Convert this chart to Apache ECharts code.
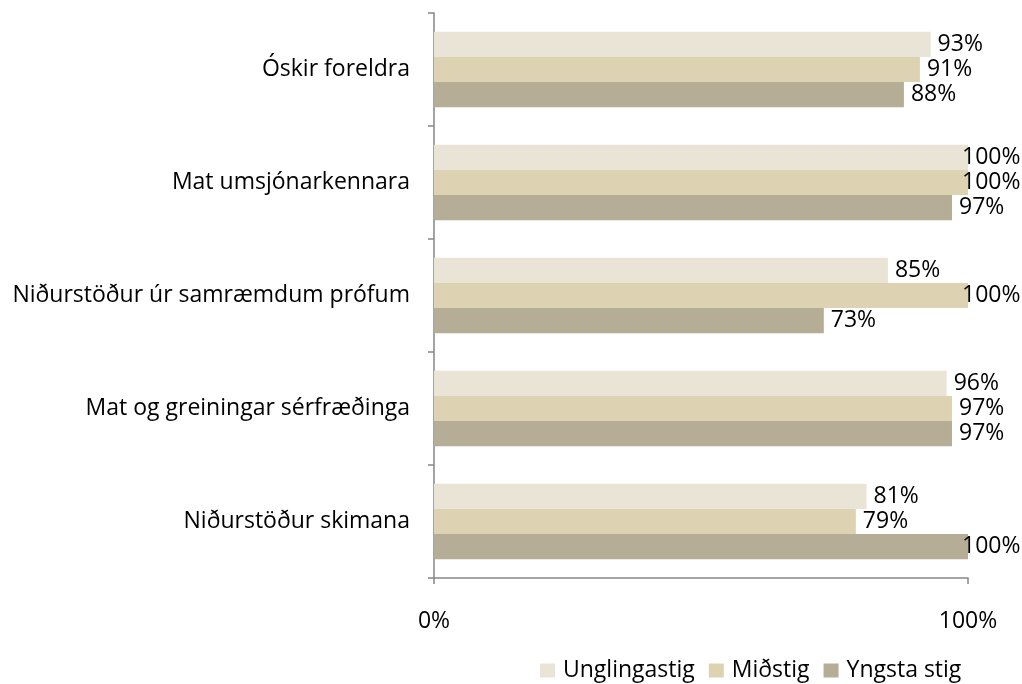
<!DOCTYPE html>
<html><head><meta charset="utf-8">
<script src="https://cdn.jsdelivr.net/npm/echarts@6/dist/echarts.min.js"></script>
<style>html,body{margin:0;padding:0;background:#fff}#c{width:1022px;height:684px}</style>
</head><body><div id="c"></div>
<script>
const categories = ['Óskir foreldra','Mat umsjónarkennara','Niðurstöður úr samræmdum prófum','Mat og greiningar sérfræðinga','Niðurstöður skimana'];
const seriesNames = ['Unglingastig','Miðstig','Yngsta stig'];
const unglingastig = [93,100,85,96,81];
const midstig = [91,100,100,97,79];
const yngstaStig = [88,97,73,97,100];
const xTicks = [0,100];
const colors = ['#E9E4D5','#DDD3B3','#B5AD95'];
const FONT = 'Open Sans';
const FS = 23;
const values = [unglingastig, midstig, yngstaStig];
const chart = echarts.init(document.getElementById('c'));
chart.setOption({
  animation:false,
  textStyle:{fontFamily:FONT},
  grid:{left:434,right:54,top:13,bottom:106,containLabel:false},
  legend:{top:659,left:540,itemWidth:15,itemHeight:14,itemGap:14,icon:'rect',padding:0,
    textStyle:{fontFamily:FONT,fontSize:FS,color:'#000',padding:[0,0,0,3]},data:seriesNames},
  xAxis:{type:'value',min:xTicks[0],max:xTicks[xTicks.length-1],interval:100,
    axisLine:{show:true,lineStyle:{color:'#868686',width:1.5}},
    axisTick:{show:true,length:6,lineStyle:{color:'#868686',width:1.5}},
    splitLine:{show:false},
    axisLabel:{formatter:v=>v+'%',fontFamily:FONT,fontSize:FS,color:'#000',margin:32}},
  yAxis:{type:'category',data:categories,inverse:true,
    axisLine:{show:true,lineStyle:{color:'#868686',width:1.5}},
    axisTick:{show:true,length:6,lineStyle:{color:'#868686',width:1.5}},
    axisLabel:{fontFamily:FONT,fontSize:FS,color:'#000',margin:24}},
  series: seriesNames.map((n,i)=>({
    name:n,type:'bar',barGap:'0%',barCategoryGap:'33%',
    itemStyle:{color:colors[i]},
    data: values[i].map(v=>({value:v,label:{offset:[v>=100?-13:0,0]}})),
    label:{show:true,position:'right',distance:7,formatter:p=>p.value+'%',
      fontFamily:FONT,fontSize:FS,color:'#000'}
  }))
});
</script></body></html>
